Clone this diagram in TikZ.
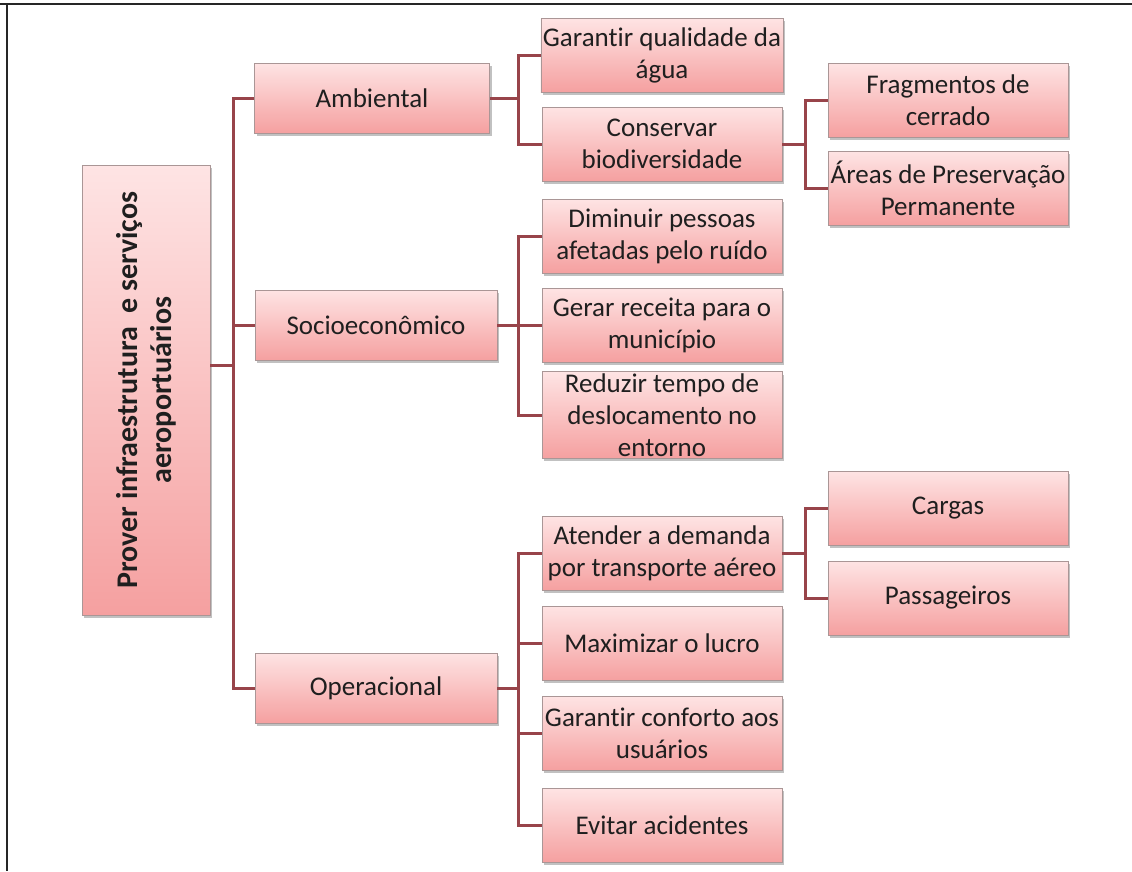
\documentclass[tikz,border=0pt]{standalone}
\usepackage{fontspec}
\setmainfont{Carlito}[Ligatures=NoCommon]
\usetikzlibrary{shadows}
\definecolor{linkred}{RGB}{152,68,74}
\definecolor{boxtop}{RGB}{254,228,228}
\definecolor{boxbot}{RGB}{245,160,160}
\definecolor{boxline}{RGB}{170,150,150}
\tikzset{
  goal/.style={draw=boxline, line width=0.6pt, top color=boxtop, bottom color=boxbot,
    minimum width=240pt, minimum height=74pt, inner sep=2pt, align=center,
    font=\fontsize{27}{32}\selectfont, text=black!88,
    drop shadow={shadow xshift=2pt, shadow yshift=-3pt, opacity=0.35, fill=black!70}},
  rootbox/.style={goal, minimum width=450pt, minimum height=128pt,
    font=\fontsize{30}{34}\selectfont\bfseries, rotate=90},
  link/.style={draw=linkred, line width=3pt},
  frameline/.style={draw=black!85, line width=2.4pt}
}
\begin{document}
\begin{tikzpicture}[x=1pt, y=-1pt]
\useasboundingbox (0,0) rectangle (1132,871);
% outer frame
\draw[frameline] (0,4) -- (1132,4);
\draw[frameline] (7,4) -- (7,871);

% junction points of the tree
\coordinate (jr) at (233,365);
\coordinate (ja) at (518,98);
\coordinate (js) at (518,325);
\coordinate (jo) at (518,688);
\coordinate (jb) at (805,144);
\coordinate (jd) at (805,553);

% root
\node[rootbox] (root) at (146,390)
  {Prover infraestrutura\ \ e serviços\\aeroportuários};

% first level
\node[goal, minimum width=235pt, minimum height=70pt] (amb) at (372,98) {Ambiental};
\node[goal, minimum width=242pt, minimum height=70pt] (soc) at (376,325) {Socioeconômico};
\node[goal, minimum width=242pt, minimum height=70pt] (ope) at (376,688) {Operacional};

% second level
\node[goal] (agua) at (662,55) {Garantir qualidade da\\água};
\node[goal] (bio)  at (662,144) {Conservar\\biodiversidade};
\node[goal] (ruido) at (662,236) {Diminuir pessoas\\afetadas pelo ruído};
\node[goal] (receita) at (662,325) {Gerar receita para o\\município};
\node[goal] (tempo) at (662,415) {Reduzir tempo de\\deslocamento no\\entorno};
\node[goal] (demanda) at (662,553) {Atender a demanda\\por transporte aéreo};
\node[goal] (lucro) at (662,643) {Maximizar o lucro};
\node[goal] (conforto) at (662,733) {Garantir conforto aos\\usuários};
\node[goal] (acid) at (662,825) {Evitar acidentes};

% third level
\node[goal] (cerrado) at (948,100) {Fragmentos de\\cerrado};
\node[goal] (app) at (948,188) {Áreas de Preservação\\Permanente};
\node[goal] (cargas) at (948,508) {Cargas};
\node[goal] (pass) at (948,598) {Passageiros};

% connectors
\draw[link] (jr -| root.south) -- (jr);
\draw[link] (amb.west) -| (jr);
\draw[link] (soc.west) -| (jr);
\draw[link] (ope.west) -| (jr);

\draw[link] (amb.east) -- (ja);
\draw[link] (agua.west) -| (ja);
\draw[link] (bio.west) -| (ja);

\draw[link] (soc.east) -- (js);
\draw[link] (ruido.west) -| (js);
\draw[link] (receita.west) -| (js);
\draw[link] (tempo.west) -| (js);

\draw[link] (ope.east) -- (jo);
\draw[link] (demanda.west) -| (jo);
\draw[link] (lucro.west) -| (jo);
\draw[link] (conforto.west) -| (jo);
\draw[link] (acid.west) -| (jo);

\draw[link] (bio.east) -- (jb);
\draw[link] (cerrado.west) -| (jb);
\draw[link] (app.west) -| (jb);

\draw[link] (demanda.east) -- (jd);
\draw[link] (cargas.west) -| (jd);
\draw[link] (pass.west) -| (jd);
\end{tikzpicture}
\end{document}
